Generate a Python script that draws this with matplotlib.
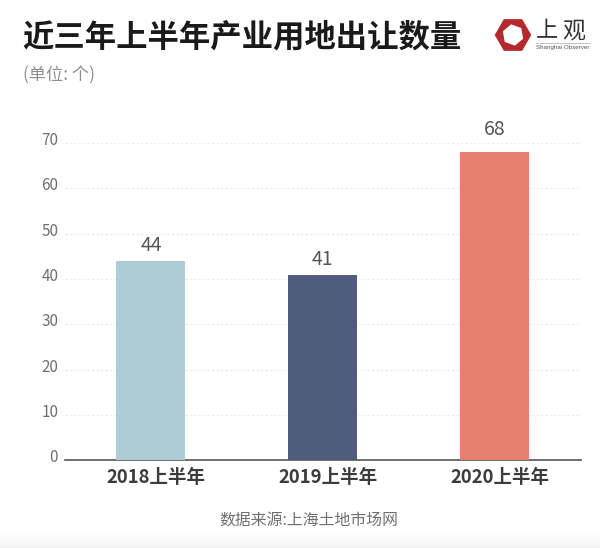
import numpy as np
import matplotlib
matplotlib.use("Agg")
import matplotlib.pyplot as plt
from matplotlib.patches import Polygon
from matplotlib.transforms import ScaledTranslation

plt.rcParams['font.family'] = ['Noto Sans CJK SC', 'DejaVu Sans']

categories = ['2018上半年', '2019上半年', '2020上半年']
values = [44, 41, 68]
bar_colors = ['#aeccd6', '#505c7c', '#e4806d']
yticks = [0, 10, 20, 30, 40, 50, 60, 70]
label_gaps = [3.5, 3.5, 8.5]

W, H = 600, 548
fig = plt.figure(figsize=(W/100, H/100), dpi=100, facecolor='white')

def px(x, y):
    return x/W, 1-y/H

# soft grey shading along the bottom edge
bg = fig.add_axes([0, 0, 1, 1], zorder=0)
bg.axis('off')
grad = np.ones((548, 600))
for i, row in enumerate(range(525, 548)):
    grad[row, :] = 1 - 0.05*(i/22)**2
bg.imshow(grad, cmap='gray', vmin=0, vmax=1, aspect='auto', extent=(0, 1, 0, 1))

ax = fig.add_axes([64.5/W, 1-460.2/H, 516/W, 317/H], zorder=2)
ax.patch.set_alpha(0)
ax.bar(range(3), values, width=0.405, color=bar_colors, zorder=3)
ax.set_xlim(-0.5, 2.5)
ax.set_ylim(0, 70)
ax.set_yticks(yticks)
ax.set_xticks(range(3))
ax.set_xticklabels(categories, fontsize=13.3, fontweight='bold', color='#3c3c3c')
ax.tick_params(axis='x', length=0, pad=3)
ax.tick_params(axis='y', length=0, pad=4.5, labelsize=11, labelcolor='#707070')
ax.yaxis.grid(True, linestyle=(0, (2, 2)), color='#ebebeb', linewidth=0.8, zorder=0)
ax.set_axisbelow(True)
for s in ['top', 'right', 'left']:
    ax.spines[s].set_visible(False)
ax.spines['bottom'].set_color('#555555')
ax.spines['bottom'].set_linewidth(1.2)

shift_y = ScaledTranslation(0, 4.5/100, fig.dpi_scale_trans)
for t in ax.get_yticklabels():
    t.set_transform(t.get_transform() + shift_y)
shift_x = ScaledTranslation(5/100, -3.5/100, fig.dpi_scale_trans)
for t in ax.get_xticklabels():
    t.set_transform(t.get_transform() + shift_x)

for i, (v, g) in enumerate(zip(values, label_gaps)):
    ax.annotate(str(v), (i, v), xytext=(0.3, g), textcoords='offset points',
                ha='center', va='bottom', fontsize=14, color='#555555', annotation_clip=False)

fig.text(*px(22.5, 37), '近三年上半年产业用地出让数量', fontsize=22.6, fontweight='bold',
         color='#1a1a1a', ha='left', va='center')
fig.text(*px(23, 75), '(单位: 个)', fontsize=12.4, color='#8f8f8f', ha='left', va='center')
fig.text(*px(308.5, 521), '数据来源:上海土地市场网', fontsize=11.4, color='#707070', ha='center', va='center')

# logo
def hexagon(cx, cy, r, rot):
    a = np.radians(np.arange(6)*60 + rot)
    return [px(cx + r*np.cos(t), cy + r*np.sin(t)) for t in a]
fig.add_artist(Polygon(hexagon(513, 35, 17.5, 0), closed=True, color='#b5292e', transform=fig.transFigure))
fig.add_artist(Polygon(hexagon(513, 35, 10, 20), closed=True, color='white', transform=fig.transFigure))
fig.text(*px(547, 31), '上', fontsize=16, color='#333333', ha='center', va='center')
fig.text(*px(574, 31), '观', fontsize=16.5, color='#333333', ha='center', va='center')
fig.add_artist(plt.Line2D([px(536, 0)[0], px(590, 0)[0]], [px(0, 42.5)[1]]*2, color='#aaaaaa', lw=0.5))
fig.text(*px(562.5, 48), 'Shanghai Observer', fontsize=4.5, color='#555555', ha='center', va='center',
         family='Liberation Sans')

fig.savefig('out.png', dpi=100)
